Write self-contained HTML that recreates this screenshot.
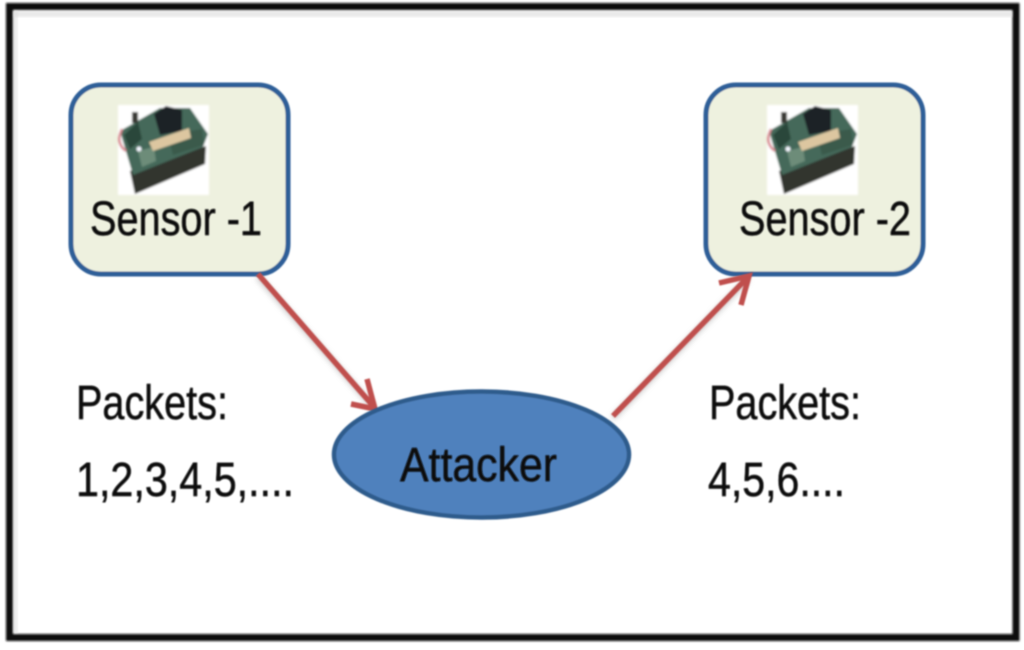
<!DOCTYPE html>
<html>
<head>
<meta charset="utf-8">
<style>
html,body{margin:0;padding:0;background:#fff;width:1024px;height:650px;overflow:hidden}
svg{display:block}
text{font-family:"Liberation Sans",sans-serif;fill:#0a0a0a;stroke:#0a0a0a;stroke-width:.5}
</style>
</head>
<body>
<svg width="1024" height="650" viewBox="0 0 1024 650" xmlns="http://www.w3.org/2000/svg">
<defs>
<filter id="b1"><feGaussianBlur stdDeviation="1"/></filter>
<filter id="b2"><feGaussianBlur stdDeviation="0.7"/></filter>
<filter id="b3"><feGaussianBlur stdDeviation="3"/></filter>
<filter id="bm" x="-5%" y="-5%" width="110%" height="110%"><feGaussianBlur stdDeviation="1.1"/></filter>
<g id="mote">
  <rect x="0" y="0" width="91" height="90" fill="#fff"/>
  <polygon points="12,66 88,41 87,59 17,89" fill="#33362f"/>
  <polygon points="2,26 42,3 72,3 90,29 85,42 15,70" fill="#45695a"/>
  <polygon points="6,30 20,17 24,34 12,44" fill="#2a463b"/>
  <polygon points="50,30 84,24 86,40 55,50" fill="#3a5a4c"/>
  <polygon points="20,46 36,42 38,56 24,62" fill="#6d8c79"/>
  <polygon points="36,9 48,1 64,5 64,26 42,30" fill="#1f2325"/>
  <polygon points="31,37 71,23 73,33 35,46" fill="#dcc6a0"/>
  <rect x="14" y="7" width="6" height="11" fill="#3a3b35"/>
  <path d="M4,24 Q-3,38 8,46" fill="none" stroke="#d98a92" stroke-width="2.500"/>
  <circle cx="21" cy="44" r="2.500" fill="#f4f7ff"/>
</g>
</defs>

<rect x="9.500" y="6.500" width="1006.500" height="631" fill="none" stroke="#0a0a0a" stroke-width="7" filter="url(#b1)"/>
<rect x="14" y="11" width="998" height="6" fill="#ddd" filter="url(#b1)" opacity=".6"/>
<rect x="13" y="11" width="5" height="622" fill="#ddd" filter="url(#b1)" opacity=".5"/>

<!-- Sensor 1 -->
<rect x="71" y="85" width="217" height="189" rx="30" ry="30" fill="#eef1df" stroke="#2f5f98" stroke-width="5" filter="url(#b2)"/>
<use href="#mote" x="118" y="105" filter="url(#bm)"/>
<text x="90" y="235" font-size="48" textLength="172" lengthAdjust="spacingAndGlyphs" filter="url(#b2)">Sensor -1</text>

<!-- Sensor 2 -->
<rect x="706" y="85" width="217" height="189" rx="30" ry="30" fill="#eef1df" stroke="#2f5f98" stroke-width="5" filter="url(#b2)"/>
<use href="#mote" x="767" y="105" filter="url(#bm)"/>
<text x="739" y="235" font-size="48" textLength="172" lengthAdjust="spacingAndGlyphs" filter="url(#b2)">Sensor -2</text>

<!-- Arrow shadows -->
<g stroke="#999" stroke-width="5" fill="none" opacity=".55" filter="url(#b3)">
  <path d="M258,277 L374,408"/>
  <path d="M613,418 L748,279"/>
</g>

<!-- Arrows -->
<g stroke="#c0504d" stroke-width="5.500" fill="none" filter="url(#b2)">
  <path d="M258,274 L374,407"/>
  <path d="M367,379 L375,409 L351,404"/>
  <path d="M613,416 L748,277"/>
  <path d="M719,283 L749,276 L741,305"/>
</g>

<!-- Attacker -->
<ellipse cx="481.500" cy="454.500" rx="147.500" ry="63" fill="#4f81bd" stroke="#2f5b8c" stroke-width="4.500" filter="url(#b2)"/>
<text x="400" y="481" font-size="48" textLength="157" lengthAdjust="spacingAndGlyphs" filter="url(#b2)">Attacker</text>

<!-- Labels -->
<text x="76" y="419" font-size="48" textLength="152" lengthAdjust="spacingAndGlyphs" filter="url(#b2)">Packets:</text>
<text x="76" y="496" font-size="48" textLength="218" lengthAdjust="spacingAndGlyphs" filter="url(#b2)">1,2,3,4,5,....</text>
<text x="709" y="419" font-size="48" textLength="152" lengthAdjust="spacingAndGlyphs" filter="url(#b2)">Packets:</text>
<text x="708" y="496" font-size="48" textLength="137" lengthAdjust="spacingAndGlyphs" filter="url(#b2)">4,5,6....</text>
</svg>
</body>
</html>
